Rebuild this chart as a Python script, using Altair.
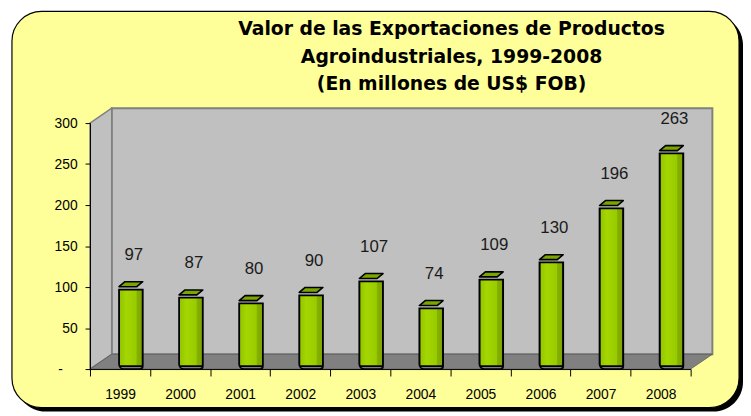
import altair as alt
import pandas as pd

# ---------------- data ----------------
YEARS = ["1999", "2000", "2001", "2002", "2003", "2004", "2005", "2006", "2007", "2008"]
VALUES = [97, 87, 80, 90, 107, 74, 109, 130, 196, 263]
Y_TICKS = [0, 50, 100, 150, 200, 250, 300]
TITLE_LINES = [
    "Valor de las Exportaciones de Productos",
    "Agroindustriales, 1999-2008",
    "(En millones de US$ FOB)",
]

df = pd.DataFrame({"Year": YEARS, "Valor": VALUES})

# ---------------- style / layout constants ----------------
W, H = 608, 249          # plot area (x axis length, 0..300 height)
DX, DY = 22, 15          # 3-D depth of walls / floor
FONT = "Liberation Sans"
YELLOW = "#FFFF99"
WALL = "#C0C0C0"
FLOOR = "#808080"
AXIS_FS = 14

one = pd.DataFrame({"k": [0]})

# chart frame (rounded yellow box with black shadow)
shadow = alt.Chart(one).mark_rect(cornerRadius=30, fill="black").encode(
    x=alt.value(-75), x2=alt.value(661), y=alt.value(-109), y2=alt.value(292)
)
box = alt.Chart(one).mark_rect(
    cornerRadius=30, fill=YELLOW, stroke="black", strokeWidth=1.2
).encode(x=alt.value(-79), x2=alt.value(657), y=alt.value(-113), y2=alt.value(288))

title = alt.Chart(pd.DataFrame({"t": ["\n".join(TITLE_LINES)]})).mark_text(
    font="DejaVu Sans", fontWeight="bold", fontSize=19, lineBreak="\n",
    lineHeight=28, align="center", baseline="top", color="black"
).encode(x=alt.value(366), y=alt.value(-104), text="t:N")

# back wall
back = alt.Chart(one).mark_rect(fill=WALL, stroke=FLOOR, strokeWidth=2).encode(
    x=alt.value(DX), x2=alt.value(W + DX), y=alt.value(-DY), y2=alt.value(H - DY)
)

# left wall and floor as areas in pixel space
left_df = pd.DataFrame({"px": [0, DX], "top": [0, -DY], "bot": [H, H - DY]})
left_wall = alt.Chart(left_df).mark_area(
    fill=WALL, stroke=FLOOR, strokeWidth=1.5, opacity=1
).encode(
    x=alt.X("px:Q", scale=None, axis=None),
    y=alt.Y("top:Q", scale=None, axis=None),
    y2="bot:Q",
)
floor_df = pd.DataFrame({
    "px": [0, DX, W, W + DX],
    "top": [H, H - DY, H - DY, H - DY],
    "bot": [H, H, H, H - DY],
})
floor = alt.Chart(floor_df).mark_area(
    fill=FLOOR, stroke="#5a5a5a", strokeWidth=0.8, opacity=1
).encode(
    x=alt.X("px:Q", scale=None, axis=None),
    y=alt.Y("top:Q", scale=None, axis=None),
    y2="bot:Q",
)

decor = alt.layer(shadow, box, title, back, left_wall, floor)

# ---------------- data marks ----------------
x_enc = alt.X(
    "Year:N",
    sort=YEARS,
    scale=alt.Scale(paddingInner=0, paddingOuter=0),
    axis=alt.Axis(
        title=None, labelAngle=0, tickBand="extent", tickSize=7, labelPadding=12,
        labelFontSize=AXIS_FS, labelFont=FONT, labelColor="black",
        domainColor="black", tickColor="black", domainWidth=1, zindex=1,
    ),
)
y_enc = alt.Y(
    "Valor:Q",
    scale=alt.Scale(domain=[0, 300], nice=False),
    axis=alt.Axis(
        title=None, values=Y_TICKS, grid=False, tickSize=5,
        labelPadding={"condition": {"test": "datum.value == 0", "value": 23}, "value": 8},
        labelFontSize=AXIS_FS, labelFont=FONT, labelColor="black",
        domainColor="black", tickColor="black", zindex=1,
        labelExpr="datum.value == 0 ? '-' : datum.label",
    ),
)

cyl = alt.Gradient(
    gradient="linear", x1=0, x2=1, y1=0, y2=0,
    stops=[
        alt.GradientStop(color="#90C300", offset=0),
        alt.GradientStop(color="#A4D600", offset=0.3),
        alt.GradientStop(color="#99CC00", offset=0.72),
        alt.GradientStop(color="#85B100", offset=0.76),
        alt.GradientStop(color="#7CA500", offset=1),
    ],
)

bars = alt.Chart(df).mark_bar(
    size=24, xOffset=11, yOffset=-3, fill=cyl, stroke="black", strokeWidth=1.8,
    cornerRadiusBottomLeft=5, cornerRadiusBottomRight=3,
).encode(x=x_enc, y=y_enc)

# slanted top face of each column (parallelogram)
CAP = "M-1,0.22 L-0.5,-0.2 L1,-0.2 L0.5,0.22 Z"
caps = alt.Chart(df).mark_point(
    shape=CAP, size=576, filled=True, fill="#7AA600", stroke="black",
    strokeWidth=1.6, strokeJoin="round", opacity=1, xOffset=11, yOffset=-5.5,
).encode(x=alt.X("Year:N", sort=YEARS), y=alt.Y("Valor:Q"))

labels = alt.Chart(df).mark_text(
    font=FONT, fontSize=17, color="#1a1a1a", dx=14, dy=-35, baseline="middle"
).encode(x=alt.X("Year:N", sort=YEARS), y=alt.Y("Valor:Q"), text="Valor:Q")

data_layer = alt.layer(bars, caps, labels)

chart = alt.layer(decor, data_layer).properties(
    width=W, height=H,
    padding={"left": 3, "top": 0, "right": 0, "bottom": 0},
    background="white",
).configure_view(strokeWidth=0).configure(font=FONT).configure_axis(
    labelFontSize=AXIS_FS, labelFont=FONT, labelColor="black"
)

chart.save("out.html", embed_options={"renderer": "svg", "actions": False})
